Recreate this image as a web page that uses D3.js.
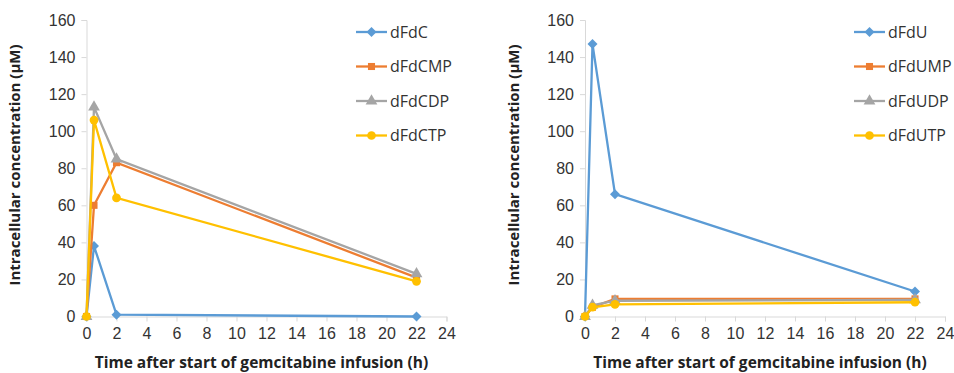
<!DOCTYPE html>
<html>
<head>
<meta charset="utf-8">
<script src="https://cdn.jsdelivr.net/npm/d3@7"></script>
<style>
  body { margin: 0; background: #fff; }
  svg { display: block; font-family: "Open Sans", "Liberation Sans", sans-serif; }
</style>
</head>
<body>
<svg id="chart" width="954" height="373"></svg>
<script>
// time points (h)
const times = [0, 0.5, 2, 22];

// left panel: dFdC and its phosphates
const leftNames = ["dFdC", "dFdCMP", "dFdCDP", "dFdCTP"];
const dFdC   = [0, 38, 1, 0];
const dFdCMP = [0, 60, 83, 21];
const dFdCDP = [0, 113, 85, 23];
const dFdCTP = [0, 106, 64, 19];

// right panel: dFdU and its phosphates
const rightNames = ["dFdU", "dFdUMP", "dFdUDP", "dFdUTP"];
const dFdU   = [0, 147, 66, 13.5];
const dFdUMP = [0, 5, 9.5, 9.5];
const dFdUDP = [0, 6, 8.5, 9];
const dFdUTP = [0, 5, 6.5, 7.7];

const xTicks = [0, 2, 4, 6, 8, 10, 12, 14, 16, 18, 20, 22, 24];
const yTicks = [0, 20, 40, 60, 80, 100, 120, 140, 160];

const colors = ["#5b9bd5", "#ed7d31", "#a5a5a5", "#ffc000"];
// diamond = square turned 45deg (d3's diamond is too tall)
const symbols = [d3.symbolSquare, d3.symbolSquare, d3.symbolTriangle, d3.symbolCircle];
const symSizes = [50, 50, 60, 60];
const symRot = [45, 0, 0, 0];

const svg = d3.select("#chart");

function drawPanel(left, names, series, legendX, titleX) {
    const x = d3.scaleLinear().domain([0, 24]).range([left, left + 360]);
    const y = d3.scaleLinear().domain([0, 160]).range([316.5, 20]);

    const g = svg.append("g");

    // y axis
    const yAxis = g.append("g")
        .attr("transform", `translate(${left},0)`)
        .call(d3.axisLeft(y).tickValues(yTicks).tickSize(5).tickPadding(6));
    yAxis.select(".domain").attr("stroke", "#d9d9d9");
    yAxis.selectAll(".tick line").attr("stroke", "#d9d9d9");
    yAxis.selectAll("text").attr("fill", "#333").style("font-size", "16px");

    // x axis
    const xAxis = g.append("g")
        .attr("transform", `translate(0,${y(0)})`)
        .call(d3.axisBottom(x).tickValues(xTicks).tickSize(5).tickPadding(6));
    xAxis.select(".domain").attr("stroke", "#d9d9d9");
    xAxis.selectAll(".tick line").attr("stroke", "#d9d9d9");
    xAxis.selectAll("text").attr("fill", "#333").style("font-size", "16px");

    // axis titles
    g.append("text")
        .attr("x", left + 175)
        .attr("y", 368)
        .attr("text-anchor", "middle")
        .style("font-size", "15.5px")
        .style("font-weight", "bold")
        .attr("fill", "#222")
        .text("Time after start of gemcitabine infusion (h)");

    g.append("text")
        .attr("transform", `translate(${titleX},165) rotate(-90)`)
        .attr("text-anchor", "middle")
        .style("font-size", "15px")
        .style("font-weight", "bold")
        .attr("fill", "#222")
        .text("Intracellular concentration (\u00b5M)");

    const line = d3.line().x(d => x(d[0])).y(d => y(d[1]));

    series.forEach((vals, i) => {
        const pts = times.map((t, j) => [t, vals[j]]);
        g.append("path")
            .datum(pts)
            .attr("fill", "none")
            .attr("stroke", colors[i])
            .attr("stroke-width", 2.3)
            .attr("d", line);
        g.selectAll(null)
            .data(pts)
            .enter()
            .append("path")
            .attr("transform", d => `translate(${x(d[0])},${y(d[1])}) rotate(${symRot[i]})`)
            .attr("d", d3.symbol().type(symbols[i]).size(symSizes[i]))
            .attr("fill", colors[i]);
    });

    // legend
    const legend = g.append("g").attr("transform", `translate(${legendX},0)`);
    names.forEach((name, i) => {
        const ly = 32 + i * 34.5;
        legend.append("line")
            .attr("x1", 0).attr("x2", 31)
            .attr("y1", ly).attr("y2", ly)
            .attr("stroke", colors[i])
            .attr("stroke-width", 2.3);
        legend.append("path")
            .attr("transform", `translate(15.5,${ly}) rotate(${symRot[i]})`)
            .attr("d", d3.symbol().type(symbols[i]).size(symSizes[i]))
            .attr("fill", colors[i]);
        legend.append("text")
            .attr("x", 34)
            .attr("y", ly)
            .attr("dy", "0.35em")
            .style("font-size", "16px")
            .attr("fill", "#333")
            .text(name);
    });
}

drawPanel(86.5, leftNames, [dFdC, dFdCMP, dFdCDP, dFdCTP], 356, 20);
drawPanel(585, rightNames, [dFdU, dFdUMP, dFdUDP, dFdUTP], 854, 519);
</script>
</body>
</html>
